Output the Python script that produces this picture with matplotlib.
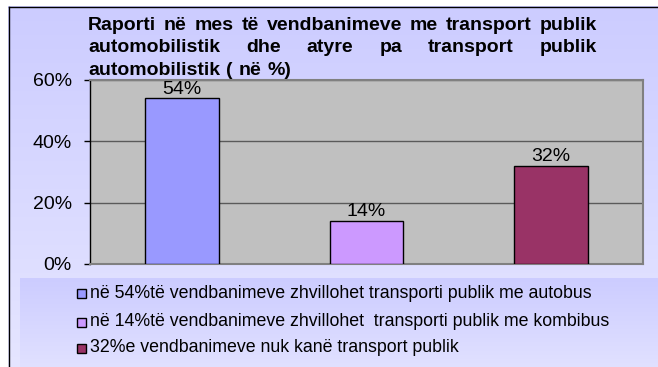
import numpy as np
import matplotlib.pyplot as plt
from matplotlib.colors import LinearSegmentedColormap
from matplotlib.patches import Rectangle

plt.rcParams['font.family'] = ['Liberation Sans', 'DejaVu Sans']

# data
shares = [54, 14, 32]
bar_colors = ['#9999ff', '#cc99ff', '#993366']
legend_labels = [
    'në 54%të vendbanimeve zhvillohet transporti publik me autobus',
    'në 14%të vendbanimeve zhvillohet  transporti publik me kombibus',
    '32%e vendbanimeve nuk kanë transport publik',
]
yticks = [0, 20, 40, 60]
title_lines = [
    'Raporti në mes të vendbanimeve me transport publik',
    'automobilistik dhe atyre pa transport publik',
    'automobilistik ( në %)',
]

W, H = 658, 367
fig = plt.figure(figsize=(W / 100, H / 100), dpi=100)
fig.patch.set_facecolor('white')

# background layer in pixel coordinates
bg = fig.add_axes([0, 0, 1, 1])
bg.axis('off')

grad = np.linspace(0, 1, 256).reshape(-1, 1)
chart_cmap = LinearSegmentedColormap.from_list('chart', ['#ccccff', '#e6e6ff'])
legend_cmap = LinearSegmentedColormap.from_list('legend', ['#ccccff', '#e2e2ff'])
bg.imshow(grad, cmap=chart_cmap, aspect='auto', extent=[8, W + 5, H + 5, 6], zorder=0)
bg.imshow(grad, cmap=legend_cmap, aspect='auto', extent=[20, W + 5, H + 5, 278], zorder=1)
bg.set_xlim(0, W)
bg.set_ylim(H, 0)
bg.plot([8.5, 8.5], [H + 5, 6.5], color='black', lw=1, zorder=2)
bg.plot([8.5, W + 5], [6.5, 6.5], color='black', lw=1, zorder=2)

# justified title, word by word
renderer = fig.canvas.get_renderer()
left_px, right_px = 88, 597
baselines = [30, 52, 75]
title_size = 14
for i, (line, yb) in enumerate(zip(title_lines, baselines)):
    words = line.split()
    texts = [bg.text(0, yb, w, fontsize=title_size, fontweight='bold', va='baseline', ha='left')
             for w in words]
    widths = [t.get_window_extent(renderer).width for t in texts]
    if i < len(title_lines) - 1:
        gap = (right_px - left_px - sum(widths)) / (len(words) - 1)
    else:
        gap = 6
    x = left_px
    for t, w in zip(texts, widths):
        t.set_x(x)
        x += w + gap

# bar chart
ax = fig.add_axes([90 / W, 1 - 264 / H, (643 - 90) / W, (264 - 80) / H])
ax.set_facecolor('#c0c0c0')
x = np.arange(len(shares))
ax.bar(x, shares, width=0.4, color=bar_colors, edgecolor='black', linewidth=1, zorder=3)
for xi, v in zip(x, shares):
    ax.text(xi, v + 0.2, f'{v}%', ha='center', va='bottom', fontsize=14, zorder=4)

ax.set_xlim(-0.5, len(shares) - 0.5)
ax.set_ylim(0, 60)
ax.set_yticks(yticks)
ax.set_yticklabels([f'{t}%' for t in yticks])
ax.set_xticks([])
ax.tick_params(axis='y', length=4, width=1, color='black', labelsize=14, pad=9)
ax.yaxis.grid(True, color='#5a5a5a', linewidth=1)
ax.set_axisbelow(True)
for side in ['top', 'right', 'bottom']:
    ax.spines[side].set_color('#808080')
    ax.spines[side].set_linewidth(1.5)
ax.spines['left'].set_color('black')
ax.spines['left'].set_linewidth(1)

# legend
legend_y = [293, 322, 348]
for yl, col, lab in zip(legend_y, bar_colors, legend_labels):
    bg.add_patch(Rectangle((77, yl - 4.5), 9, 9, facecolor=col, edgecolor='black', lw=1, zorder=3))
    bg.text(90, yl, lab, fontsize=12.8, va='center', ha='left', zorder=3)

fig.savefig('out.png', dpi=100)
